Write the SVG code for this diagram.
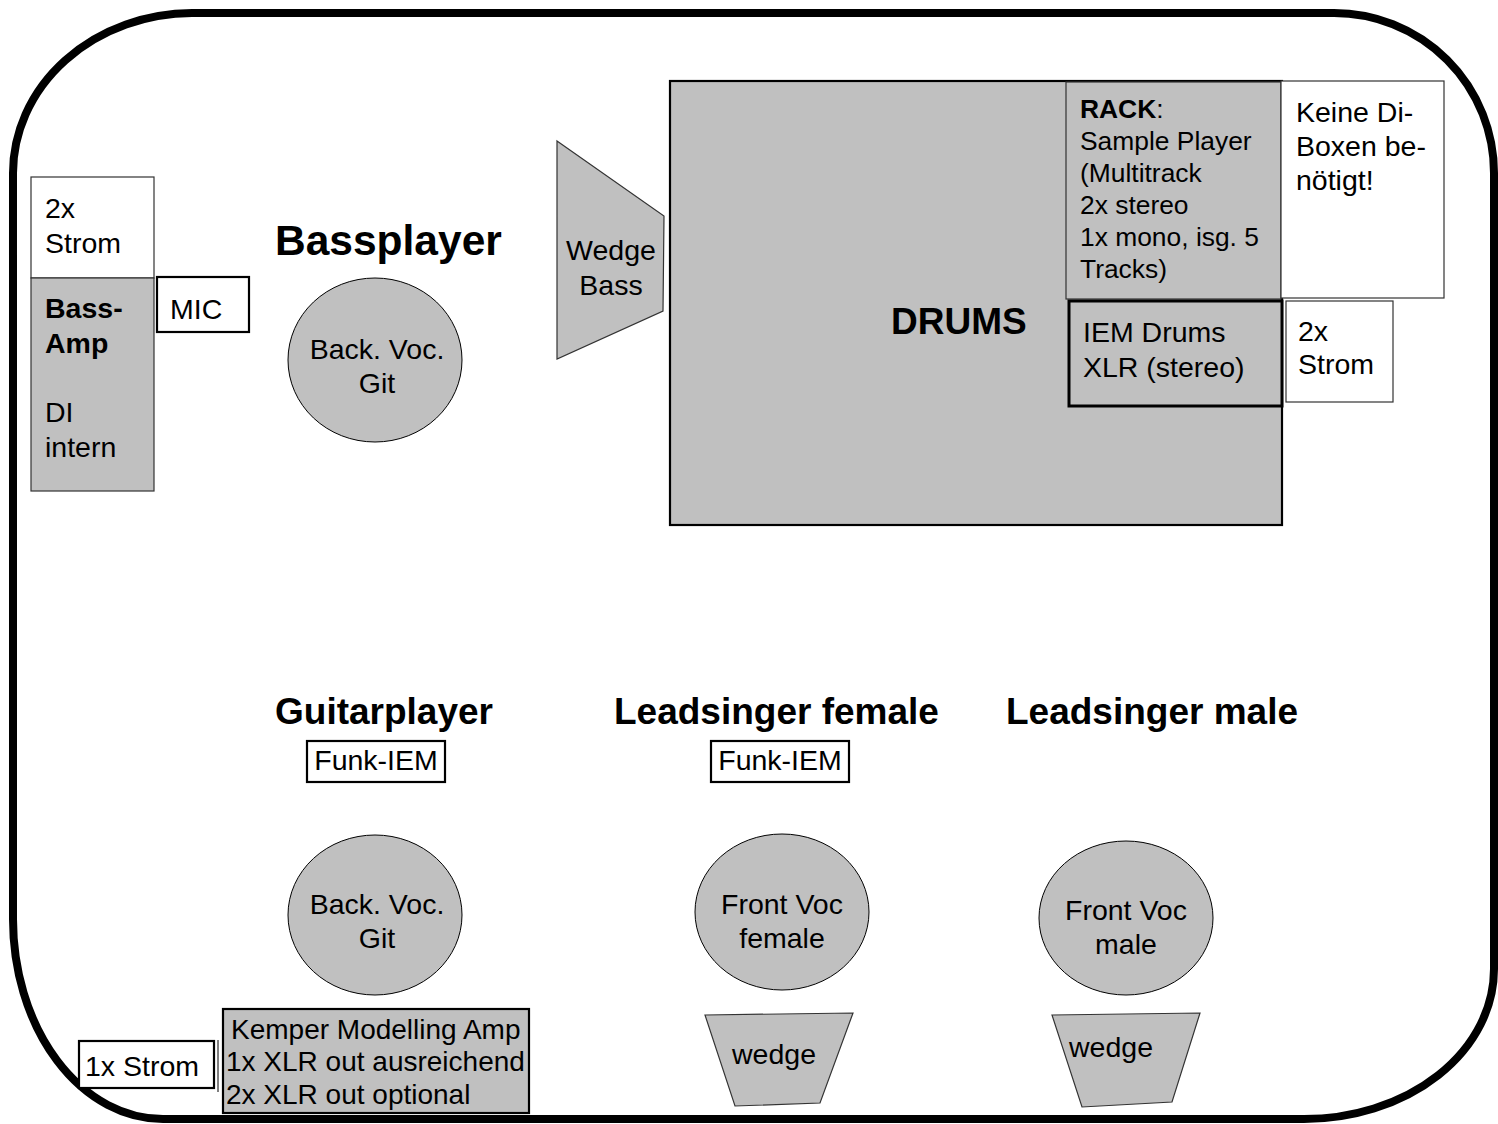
<svg xmlns="http://www.w3.org/2000/svg" width="1498" height="1124" viewBox="0 0 1498 1124">
<style>
  text { font-family: "Liberation Sans", Arial, Helvetica, sans-serif; fill: #000; }
  .t { font-size: 28.5px; }
  .k { font-size: 28px; }
  .tr { font-size: 26.4px; }
  .b { font-weight: bold; }
  .h { font-size: 37px; font-weight: bold; }
  .c { text-anchor: middle; }
  .thin { stroke: #333; stroke-width: 1.2; }
  .thick { stroke: #000; stroke-width: 2.2; }
  .gray { fill: #c0c0c0; }
  .white { fill: #fff; }
</style>
<rect width="1498" height="1124" fill="#fff"/>
<g id="stage">
  <path d="M 192 13 H 1334 A 160 160 0 0 1 1494 173 V 969 A 190 150 0 0 1 1304 1119 H 163 A 150 200 0 0 1 13 919 V 173 A 180 160 0 0 1 192 13 Z" fill="none" stroke="#000" stroke-width="8"/>
</g>
<g id="strom-bass">
  <rect x="31" y="177" width="123" height="101" class="white thin"/>
  <text class="t" x="45" y="218">2x</text>
  <text class="t" x="45" y="253">Strom</text>
</g>
<g id="bass-amp">
  <rect x="31" y="278" width="123" height="213" class="gray thin"/>
  <text class="t b" x="45" y="318">Bass-</text>
  <text class="t b" x="45" y="353">Amp</text>
  <text class="t" x="45" y="422">DI</text>
  <text class="t" x="45" y="457">intern</text>
</g>
<g id="mic">
  <rect x="157" y="277" width="92" height="55" class="white thick"/>
  <text class="t" x="170" y="319">MIC</text>
</g>
<g id="bassplayer">
  <text x="275" y="255" style="font-size:42.5px;font-weight:bold">Bassplayer</text>
</g>
<g id="backvoc-bass">
  <ellipse cx="375" cy="360" rx="87" ry="82" class="gray" stroke="#000" stroke-width="1"/>
  <text class="t c" x="377" y="359">Back. Voc.</text>
  <text class="t c" x="377" y="393">Git</text>
</g>
<g id="wedge-bass">
  <polygon points="557,141 664,216 663,311 557,359" class="gray thin"/>
  <text class="t c" x="611" y="260">Wedge</text>
  <text class="t c" x="611" y="295">Bass</text>
</g>
<g id="drums">
  <rect x="670" y="81" width="612" height="444" class="gray" stroke="#000" stroke-width="2.2"/>
  <text class="h" x="891" y="334">DRUMS</text>
</g>
<g id="rack">
  <rect x="1066" y="82" width="215" height="217" class="gray thin"/>
  <text class="tr" x="1080" y="118"><tspan font-weight="bold">RACK</tspan>:</text>
  <text class="tr" x="1080" y="150">Sample Player</text>
  <text class="tr" x="1080" y="182">(Multitrack</text>
  <text class="tr" x="1080" y="214">2x stereo</text>
  <text class="tr" x="1080" y="246">1x mono, isg. 5</text>
  <text class="tr" x="1080" y="278">Tracks)</text>
</g>
<g id="keine-di">
  <rect x="1281" y="81" width="163" height="217" class="white thin"/>
  <text class="t" x="1296" y="122">Keine Di-</text>
  <text class="t" x="1296" y="156">Boxen be-</text>
  <text class="t" x="1296" y="190">nötigt!</text>
</g>
<g id="iem-drums">
  <rect x="1069" y="301" width="213" height="105" class="gray" stroke="#000" stroke-width="3"/>
  <text class="t" x="1083" y="342">IEM Drums</text>
  <text class="t" x="1083" y="377">XLR (stereo)</text>
</g>
<g id="strom-drums">
  <rect x="1286" y="301" width="107" height="101" class="white thin"/>
  <text class="t" x="1298" y="341">2x</text>
  <text class="t" x="1298" y="374">Strom</text>
</g>
<g id="guitarplayer">
  <text class="h" x="275" y="724">Guitarplayer</text>
</g>
<g id="funk-iem-guitar">
  <rect x="307" y="741" width="138" height="41" class="white thick"/>
  <text class="t c" x="376" y="770">Funk-IEM</text>
</g>
<g id="leadsinger-female">
  <text class="h" x="614" y="724">Leadsinger female</text>
</g>
<g id="funk-iem-female">
  <rect x="711" y="741" width="138" height="41" class="white thick"/>
  <text class="t c" x="780" y="770">Funk-IEM</text>
</g>
<g id="leadsinger-male">
  <text class="h" x="1006" y="724">Leadsinger male</text>
</g>
<g id="backvoc-guitar">
  <ellipse cx="375" cy="915" rx="87" ry="80" class="gray" stroke="#000" stroke-width="1"/>
  <text class="t c" x="377" y="914">Back. Voc.</text>
  <text class="t c" x="377" y="948">Git</text>
</g>
<g id="frontvoc-female">
  <ellipse cx="782" cy="912" rx="87" ry="78" class="gray" stroke="#000" stroke-width="1"/>
  <text class="t c" x="782" y="914">Front Voc</text>
  <text class="t c" x="782" y="948">female</text>
</g>
<g id="frontvoc-male">
  <ellipse cx="1126" cy="918" rx="87" ry="77" class="gray" stroke="#000" stroke-width="1"/>
  <text class="t c" x="1126" y="920">Front Voc</text>
  <text class="t c" x="1126" y="954">male</text>
</g>
<g id="wedge-female">
  <polygon points="705,1015 853,1013 820,1103 735,1106" class="gray thin"/>
  <text class="t" x="732" y="1064">wedge</text>
</g>
<g id="wedge-male">
  <polygon points="1052,1015 1200,1013 1172,1102 1082,1107" class="gray thin"/>
  <text class="t" x="1069" y="1057">wedge</text>
</g>
<g id="strom-guitar">
  <rect x="79" y="1041" width="135" height="47" class="white thick"/>
  <line x1="218" y1="1040" x2="218" y2="1092" stroke="#000" stroke-width="1"/>
  <text class="t" x="85" y="1076">1x Strom</text>
</g>
<g id="kemper">
  <rect x="223" y="1009" width="306" height="104" class="gray thick"/>
  <text class="k" x="231" y="1039">Kemper Modelling Amp</text>
  <text class="k" x="226" y="1071">1x XLR out ausreichend</text>
  <text class="k" x="226" y="1104">2x XLR out optional</text>
</g>
<g id="connectors"></g>
</svg>
